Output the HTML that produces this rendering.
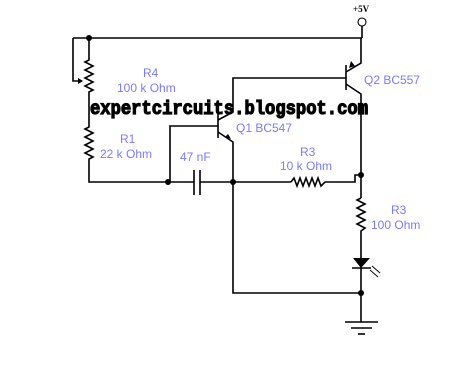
<!DOCTYPE html>
<html><head><style>body{margin:0;background:#fff}svg{display:block}</style></head><body>
<svg width="466" height="388" viewBox="0 0 466 388" xmlns="http://www.w3.org/2000/svg">
<g stroke="#000" stroke-width="1.6" fill="none">
<polyline points="73,38 362,38"/>
<line x1="362" y1="26" x2="362" y2="38"/>
<polyline points="73,38 73,81 82,81"/>
<polyline points="89,38 89,60 85,62 93,66 85,70 93,74 85,78 93,82 85,86 93,90 89,92 89,127 85,129 93,133 85,137 93,141 85,145 93,149 85,153 93,157 89,159 89,182 168,182"/>
<line x1="168" y1="182" x2="194" y2="182"/>
<line x1="194" y1="170" x2="194" y2="195"/>
<line x1="200" y1="170" x2="200" y2="195"/>
<line x1="200" y1="182" x2="291" y2="182"/>
<polyline points="291,182 294,178 297,186 300,178 303,186 306,178 309,186 312,178 315,186 318,178 321,186 325,182 355,182 355,175 361,175"/>
<polyline points="170,182 170,126 218,126"/>
<line x1="218" y1="114" x2="218" y2="138"/>
<polyline points="218,120 233,112 233,78 346,78"/>
<polyline points="218,132 233,142 233,293 361,293"/>
<line x1="346" y1="65" x2="346" y2="90"/>
<polyline points="346,72 361,63 361,38"/>
<polyline points="346,84 361,94 361,198"/>
<polyline points="361,198 357,200 365,204 357,208 365,212 357,216 365,220 357,224 365,228 361,231 361,258"/>
<line x1="352" y1="268" x2="371" y2="268"/>
<line x1="361" y1="268" x2="361" y2="322"/>
<line x1="345" y1="322" x2="378" y2="322"/>
<line x1="351" y1="328" x2="372" y2="328"/>
<line x1="358" y1="334" x2="365" y2="334"/>
<path d="M370,270 l8,7 M372,266 l8,7" stroke-width="0.9"/>
<circle cx="362" cy="22" r="4" stroke-width="1.1"/>
</g>
<g fill="#000">
<polygon points="353,258 370,258 361,268"/>
<polygon points="83,81 78,78 78,84"/>
<polygon points="225,137 231,139 228,134"/>
<polygon points="355,66 351,61 349,68"/>
<circle cx="89" cy="38" r="3"/><circle cx="168" cy="182" r="3"/><circle cx="233" cy="182" r="3"/>
<circle cx="361" cy="175" r="3"/><circle cx="361" cy="293" r="3"/>
<text x="353" y="12" font-family="Liberation Serif" font-weight="bold" font-size="9">+5V</text>
<text x="90" y="114" font-family="Liberation Mono" font-weight="bold" font-size="19" stroke="#000" stroke-width="1.2" textLength="278" lengthAdjust="spacingAndGlyphs">expertcircuits.blogspot.com</text>
</g>
<g fill="#7a7aff" font-family="Liberation Sans" font-size="12">
<text x="143" y="77">R4</text><text x="117" y="92">100 k Ohm</text>
<text x="120" y="143">R1</text><text x="100" y="158">22 k Ohm</text>
<text x="180" y="161">47 nF</text>
<text x="236" y="132">Q1 BC547</text>
<text x="300" y="156">R3</text><text x="280" y="170">10 k Ohm</text>
<text x="364" y="84">Q2 BC557</text>
<text x="391" y="214">R3</text><text x="371" y="229">100  Ohm</text>
</g>
</svg>
</body></html>
